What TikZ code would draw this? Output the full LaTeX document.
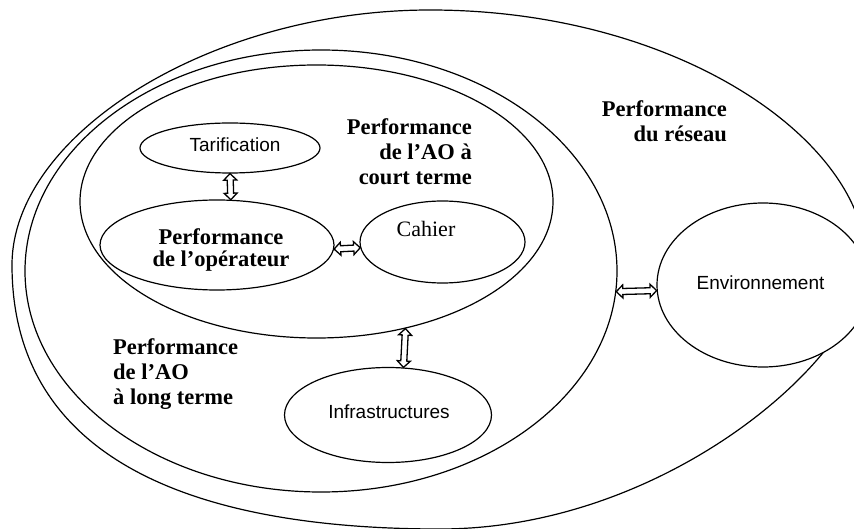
\documentclass[tikz,border=0pt]{standalone}
\usepackage{fontspec}
\setmainfont{Liberation Serif}
\newfontfamily\labelsans{Liberation Sans}
\usetikzlibrary{shapes.geometric,calc}

\tikzset{
  outline/.style={draw, line width=1.2pt},
  zone/.style={draw, ellipse, line width=1.2pt, inner sep=0pt},
  bubble/.style={draw, ellipse, line width=1.2pt, fill=white, inner sep=0pt},
  boldlabel/.style={font=\fontsize{22.5}{25}\selectfont\bfseries, inner sep=0pt},
  plainlabel/.style={font=\fontsize{22}{25}\selectfont, inner sep=0pt},
  sanslabel/.style={font=\labelsans\fontsize{19}{22}\selectfont, inner sep=0pt},
  % outlined double-headed block arrow between two points
  hollowarrow/.style={draw, fill=white, line width=1.3pt, line join=miter,
    to path={
      (\tikztostart)
      -- ($(\tikztostart)!6.5pt!(\tikztotarget)!6.5pt!90:(\tikztotarget)$)
      -- ($(\tikztostart)!6.5pt!(\tikztotarget)!3pt!90:(\tikztotarget)$)
      -- ($(\tikztotarget)!6.5pt!(\tikztostart)!3pt!-90:(\tikztostart)$)
      -- ($(\tikztotarget)!6.5pt!(\tikztostart)!6.5pt!-90:(\tikztostart)$)
      -- (\tikztotarget)
      -- ($(\tikztotarget)!6.5pt!(\tikztostart)!6.5pt!90:(\tikztostart)$)
      -- ($(\tikztotarget)!6.5pt!(\tikztostart)!3pt!90:(\tikztostart)$)
      -- ($(\tikztostart)!6.5pt!(\tikztotarget)!3pt!-90:(\tikztotarget)$)
      -- ($(\tikztostart)!6.5pt!(\tikztotarget)!6.5pt!-90:(\tikztotarget)$)
      -- cycle
    }},
}

\begin{document}
\begin{tikzpicture}[x=1pt,y=-1pt]
\useasboundingbox (0,0) rectangle (854,529);

% outer zone: network performance (egg-shaped oval, narrower at the right end)
\draw[outline] (430,10)
  .. controls (680,10) and (866,142) .. (866,262)
  .. controls (866,352) and (670,529) .. (440,529)
  .. controls (160,529) and (12,440) .. (12,265)
  .. controls (12,135) and (210,10) .. (430,10) -- cycle;

% nested zones: long-term and short-term authority performance
\node[zone, minimum width=592pt, minimum height=442pt] (long) at (321,271) {};
\node[zone, minimum width=473pt, minimum height=273pt] (court) at (316.5,201.5) {};

% elements
\node[bubble, minimum width=180pt, minimum height=50pt] (tarif) at (230,148) {};
\node[bubble, minimum width=234pt, minimum height=90pt] (oper) at (217,245) {};
\node[bubble, minimum width=165pt, minimum height=82pt] (cahier) at (442.5,242) {};
\node[bubble, minimum width=207pt, minimum height=95pt] (infra) at (388,415) {};
\node[bubble, minimum width=212pt, minimum height=164pt] (env) at (763,285) {};

% labels
\node[boldlabel, align=right, anchor=north east] (reseaulbl) at (727,100) {Performance\\du réseau};
\node[boldlabel, align=right, anchor=north east] (courtlbl) at (472,118) {Performance\\de l’AO à\\court terme};
\node[boldlabel, align=left, anchor=north west] (longlbl) at (113,338) {Performance\\de l’AO\\à long terme};
\node[boldlabel, font=\fontsize{22.5}{22}\selectfont\bfseries, align=center, anchor=north] (operlbl) at (221,228) {Performance\\de l’opérateur};
\node[plainlabel, anchor=base] (cahierlbl) at (426,237) {Cahier};
\node[sanslabel, anchor=base] (tariflbl) at (235,152) {Tarification};
\node[sanslabel, anchor=base] (infralbl) at (389,418) {Infrastructures};
\node[sanslabel, anchor=base] (envlbl) at (760.5,290) {Environnement};

% interactions
\draw[hollowarrow] (tarif.south) to (oper.73.8);
\draw[hollowarrow] (oper.-2) to (cahier.184.9);
\draw[hollowarrow] (court.-55.7) to (infra.72.3);
\draw[hollowarrow] (long.-4.1) to (env.183.8);
\end{tikzpicture}
\end{document}
